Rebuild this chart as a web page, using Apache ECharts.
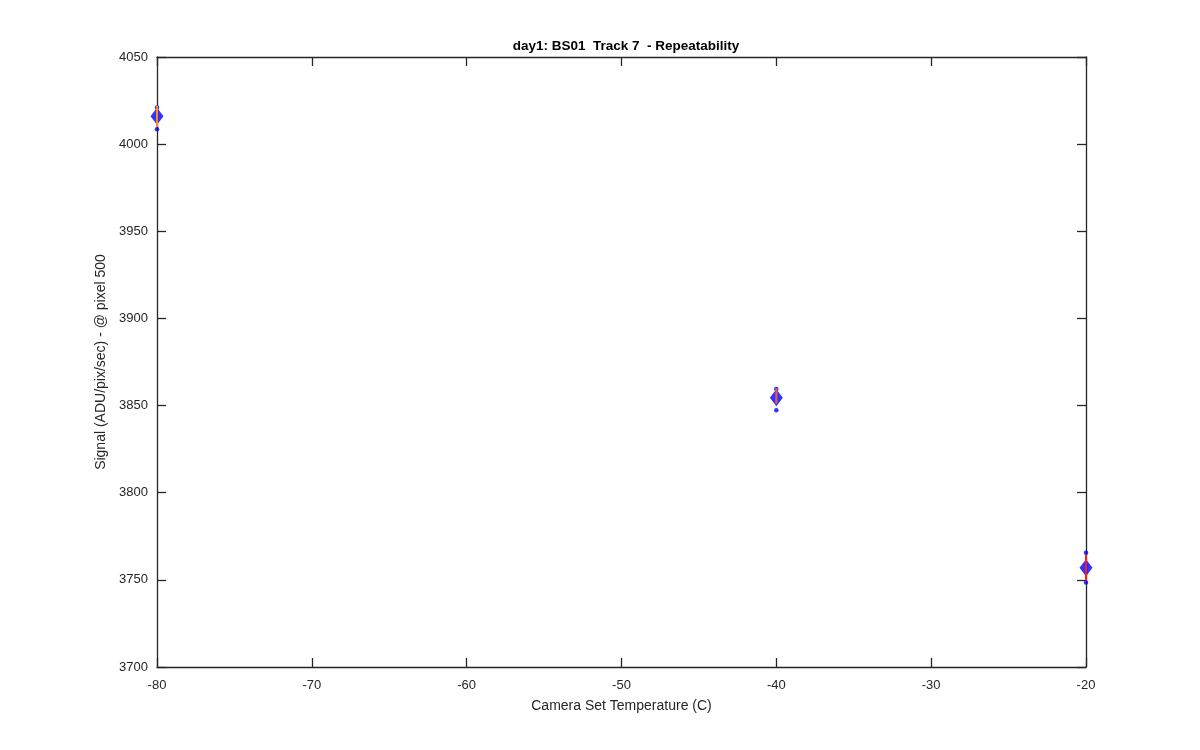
<!DOCTYPE html>
<html>
<head>
<meta charset="utf-8">
<script src="https://cdn.jsdelivr.net/npm/echarts@6/dist/echarts.min.js"></script>
<style>html,body{margin:0;padding:0;background:#fff;}#c{width:1200px;height:750px;}</style>
</head>
<body>
<div id="c"></div>
<script>
// Data
const temps = [-80, -40, -20];
const means = [4016, 3854.5, 3757];
const errLow = [4010, 3851, 3749.5];
const errHigh = [4022, 3860, 3764.5];
const errColors = ['#FF8C1A', '#FF5A2A', '#FF1A1A'];
const sampleTemps = [-80, -80, -40, -40, -20, -20];
const sampleValues = [4008.5, 4021, 3847.3, 3859.5, 3748.5, 3765.5];
const xTicks = [-80, -70, -60, -50, -40, -30, -20];
const yTicks = [3700, 3750, 3800, 3850, 3900, 3950, 4000, 4050];

const chart = echarts.init(document.getElementById('c'), null, {renderer: 'canvas'});
const font = 'Liberation Sans, Arial, Helvetica, sans-serif';
const axisCommon = {
  axisLine: {show: true, onZero: false, lineStyle: {color: '#262626', width: 1.3}},
  axisTick: {show: true, inside: true, length: 9, lineStyle: {color: '#262626', width: 1.3}},
  splitLine: {show: false}
};
chart.setOption({
  animation: false,
  backgroundColor: '#fff',
  title: {
    text: 'day1: BS01  Track 7  - Repeatability',
    left: 621, top: 34, textAlign: 'center',
    textStyle: {fontFamily: font, fontSize: 13.5, fontWeight: 'bold', color: '#000'}
  },
  grid: {left: 157, right: 114, top: 57, bottom: 83},
  xAxis: [
    Object.assign({
      type: 'value', position: 'bottom', min: xTicks[0], max: xTicks[xTicks.length - 1], interval: 10,
      name: 'Camera Set Temperature (C)', nameLocation: 'middle', nameGap: 32,
      nameTextStyle: {fontFamily: font, fontSize: 14, color: '#262626'},
      axisLabel: {fontFamily: font, fontSize: 13, color: '#262626', margin: 12}
    }, axisCommon),
    Object.assign({
      type: 'value', position: 'top', min: xTicks[0], max: xTicks[xTicks.length - 1], interval: 10,
      axisLabel: {show: false}
    }, axisCommon)
  ],
  yAxis: [
    Object.assign({
      type: 'value', position: 'left', min: yTicks[0], max: yTicks[yTicks.length - 1], interval: 50,
      name: 'Signal (ADU/pix/sec) - @ pixel 500', nameLocation: 'middle', nameGap: 46,
      nameTextStyle: {fontFamily: font, fontSize: 14, color: '#262626'},
      axisLabel: {fontFamily: font, fontSize: 13, color: '#262626', margin: 9, formatter: v => String(v)}
    }, axisCommon),
    Object.assign({
      type: 'value', position: 'right', min: yTicks[0], max: yTicks[yTicks.length - 1], interval: 50,
      axisLabel: {show: false}
    }, axisCommon)
  ],
  series: [
    {
      type: 'scatter', name: 'mean', symbol: 'diamond', symbolSize: [13, 17],
      itemStyle: {color: '#0000FF'},
      data: temps.map((t, i) => [t, means[i]]), z: 2
    },
    {
      type: 'scatter', name: 'samples', symbol: 'circle', symbolSize: 4.5,
      itemStyle: {color: '#0000FF'},
      data: sampleTemps.map((t, i) => [t, sampleValues[i]]), z: 3
    },
    {
      type: 'custom', name: 'err', z: 4,
      data: temps.map((t, i) => [t, errLow[i], errHigh[i], i]),
      renderItem: function (params, api) {
        const p1 = api.coord([api.value(0), api.value(1)]);
        const p2 = api.coord([api.value(0), api.value(2)]);
        return {
          type: 'line',
          shape: {x1: p1[0], y1: p1[1], x2: p2[0], y2: p2[1]},
          style: {stroke: errColors[api.value(3)], lineWidth: 2}
        };
      }
    }
  ]
});
</script>
</body>
</html>
